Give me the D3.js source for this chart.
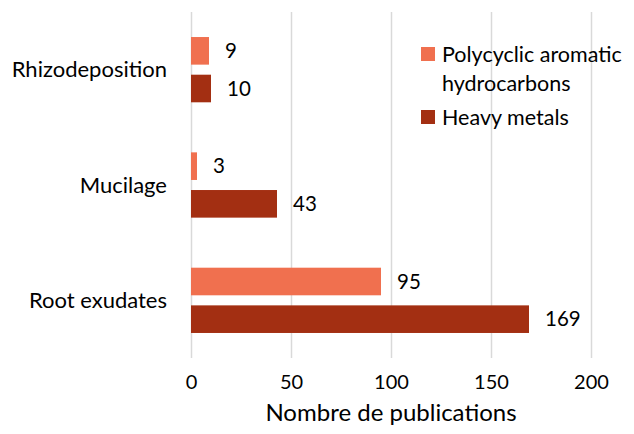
<!DOCTYPE html>
<html>
<head>
<meta charset="utf-8">
<script src="https://cdn.jsdelivr.net/npm/d3@7"></script>
<style>
  body { margin: 0; background: #fff; }
  svg text { font-family: Lato, "Open Sans", sans-serif; fill: #000; }
</style>
</head>
<body>
<div class="chart"></div>
<script>
// data
var categories = ["Rhizodeposition", "Mucilage", "Root exudates"];
var seriesNames = ["Polycyclic aromatic hydrocarbons", "Heavy metals"];
var pahValues = [9, 3, 95];
var metalValues = [10, 43, 169];
var xTicks = [0, 50, 100, 150, 200];
var colors = ["#F0704F", "#A32F12"];

var width = 634, height = 434;

var svg = d3.select("div.chart")
    .append("svg")
    .attr("width", width)
    .attr("height", height);

// scales
var x = d3.scaleLinear()
    .domain([0, 200])
    .range([191, 591]);

var y = d3.scaleBand()
    .domain(categories)
    .range([12, 358])
    .paddingInner(0.434)
    .paddingOuter(0.217);

var ySub = d3.scaleBand()
    .domain([0, 1])
    .range([0, y.bandwidth()])
    .paddingInner(0.267);

// gridlines
var grid = svg.append("g")
    .attr("transform", "translate(0,358)")
    .call(d3.axisBottom(x).tickValues(xTicks).tickSize(-346).tickFormat(""));
grid.select(".domain").remove();
grid.selectAll("line").attr("stroke", "#d9d9d9").attr("stroke-width", 1.5);

// tick labels
var axis = svg.append("g")
    .attr("transform", "translate(0,358)")
    .call(d3.axisBottom(x).tickValues(xTicks).tickSize(0).tickPadding(0));
axis.select(".domain").remove();
axis.selectAll("text")
    .attr("y", 24)
    .attr("dy", "0.35em")
    .style("font-size", "20px")
    .style("font-family", "Lato, sans-serif")
    .attr("fill", "#000");

// axis title
svg.append("text")
    .attr("x", x(100))
    .attr("y", 413)
    .attr("dy", "0.35em")
    .attr("text-anchor", "middle")
    .style("font-size", "24px")
    .text("Nombre de publications");

// category labels
svg.selectAll("text.cat")
    .data(categories)
    .enter()
    .append("text")
    .attr("class", "cat")
    .attr("x", 167)
    .attr("y", function (d) { return y(d) + y.bandwidth() / 2; })
    .attr("dy", "0.35em")
    .attr("text-anchor", "end")
    .style("font-size", "22px")
    .text(function (d) { return d; });

// bars
var rows = [];
categories.forEach(function (c, i) {
    rows.push({cat: c, s: 0, v: pahValues[i]});
    rows.push({cat: c, s: 1, v: metalValues[i]});
});

svg.selectAll("rect.bar")
    .data(rows)
    .enter()
    .append("rect")
    .attr("class", "bar")
    .attr("x", x(0))
    .attr("y", function (d) { return y(d.cat) + ySub(d.s); })
    .attr("width", function (d) { return x(d.v) - x(0); })
    .attr("height", ySub.bandwidth())
    .attr("fill", function (d) { return colors[d.s]; });

// value labels
svg.selectAll("text.val")
    .data(rows)
    .enter()
    .append("text")
    .attr("class", "val")
    .attr("x", function (d) { return x(d.v) + 16; })
    .attr("y", function (d) { return y(d.cat) + ySub(d.s) + ySub.bandwidth() / 2; })
    .attr("dy", "0.35em")
    .style("font-size", "20.5px")
    .text(function (d) { return d.v; });

// legend
var legend = svg.append("g");
var legendItems = [
    {s: 0, y: 54, lines: ["Polycyclic aromatic", "hydrocarbons"]},
    {s: 1, y: 117, lines: ["Heavy metals"]}
];
legendItems.forEach(function (item) {
    legend.append("rect")
        .attr("x", 421)
        .attr("y", item.y - 7)
        .attr("width", 14)
        .attr("height", 14)
        .attr("fill", colors[item.s]);
    item.lines.forEach(function (line, j) {
        legend.append("text")
            .attr("x", 442)
            .attr("y", item.y + j * 29)
            .attr("dy", "0.35em")
            .style("font-size", "21.5px")
            .text(line);
    });
});
</script>
</body>
</html>
